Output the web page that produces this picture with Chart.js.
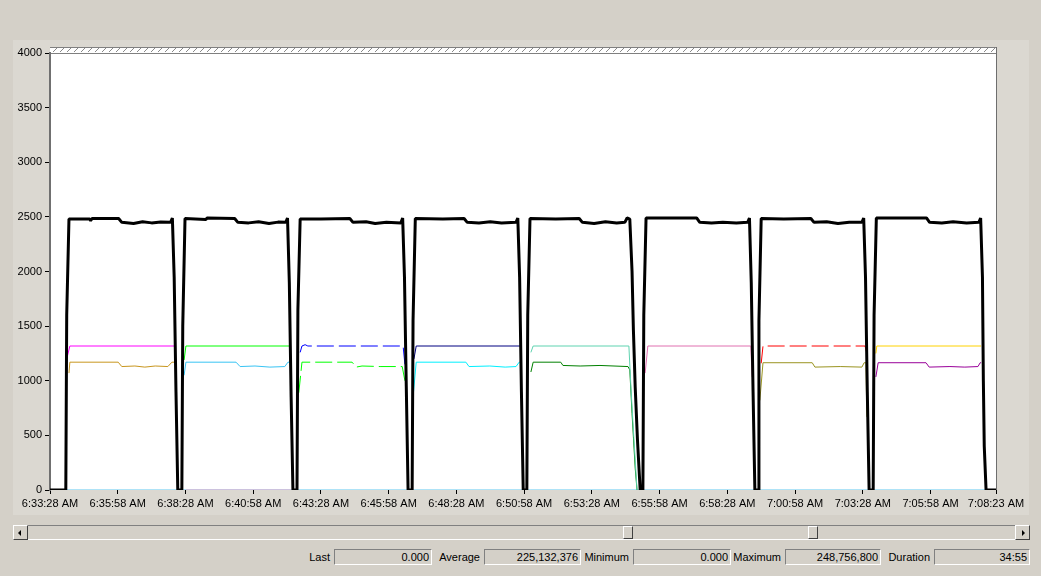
<!DOCTYPE html>
<html>
<head>
<meta charset="utf-8">
<script src="https://cdn.jsdelivr.net/npm/chart.js@4.4.0/dist/chart.umd.min.js"></script>
<style>
  body { margin: 0; width: 1041px; height: 576px; background: #d4d0c8; position: relative; overflow: hidden;
         font: 11px "Liberation Sans", Arial, sans-serif; color: #000; }
  #panel { position: absolute; left: 13px; top: 40px; width: 1016px; height: 475px; background: #dbd8d1; }
  #chart { position: absolute; left: 0; top: 0; }
  .track { position: absolute; left: 13px; top: 525px; width: 1017px; height: 15px; box-sizing: border-box;
           border-top: 1px solid #808080; border-bottom: 1px solid #fff; background: #d4d0c8; }
  .raised { position: absolute; box-sizing: border-box; background: #d4d0c8;
            border-top: 1px solid #fff; border-left: 1px solid #fff;
            border-right: 1px solid #404040; border-bottom: 1px solid #404040; }
  .arrow { position: absolute; top: 4px; width: 0; height: 0; border-top: 3px solid transparent; border-bottom: 3px solid transparent; }
  .lbl { position: absolute; top: 551px; text-align: right; }
  .box { position: absolute; top: 549px; height: 16px; box-sizing: border-box; text-align: right;
         padding-right: 2px; line-height: 14px;
         border-top: 1px solid #808080; border-left: 1px solid #808080;
         border-bottom: 1px solid #fff; border-right: 1px solid #fff; }
</style>
</head>
<body>
<div id="panel"></div>
<canvas id="chart" width="1041" height="520"></canvas>

<div class="track"></div>
<div class="raised" style="left:13px;top:525px;width:15px;height:15px"><div class="arrow" style="left:4px;border-right:3px solid #000"></div></div>
<div class="raised" style="left:1015px;top:525px;width:15px;height:15px"><div class="arrow" style="left:6px;border-left:3px solid #000"></div></div>
<div class="raised" style="left:623px;top:526px;width:10px;height:13px"></div>
<div class="raised" style="left:808px;top:526px;width:10px;height:13px"></div>
<div id="stats"></div>

<script>
// x values are seconds since 6:33:28 AM, y values are counter readings
const tickSeconds = [0, 150, 300, 450, 600, 750, 900, 1050, 1200, 1350, 1500, 1650, 1800, 1950, 2095]
const tickLabels = ['6:33:28 AM', '6:35:58 AM', '6:38:28 AM', '6:40:58 AM', '6:43:28 AM', '6:45:58 AM',
  '6:48:28 AM', '6:50:58 AM', '6:53:28 AM', '6:55:58 AM', '6:58:28 AM', '7:00:58 AM', '7:03:28 AM',
  '7:05:58 AM', '7:08:23 AM']

const totalLine = [
  [0,0],[35,0],[37,1600],[42,2480],[88,2480],[90,2465],[93,2485],[152,2485],[159,2450],[185,2440],[205,2455],[225,2445],[245,2452],[267,2450],[271,2490],[275,1950],[279,900],[283,0],
  [292,0],[294,1500],[299,2485],[345,2475],[348,2490],[409,2485],[416,2450],[440,2445],[462,2455],[485,2440],[505,2452],[522,2450],[526,2490],[530,1900],[534,850],[538,0],
  [547,0],[549,1650],[554,2480],[600,2480],[664,2485],[671,2450],[700,2455],[720,2440],[745,2450],[777,2445],[781,2490],[785,1950],[789,950],[793,0],
  [802,0],[804,1550],[809,2485],[870,2480],[917,2485],[924,2450],[950,2445],[975,2455],[1000,2445],[1032,2450],[1036,2490],[1040,1950],[1044,900],[1048,0],
  [1056,0],[1058,1600],[1063,2485],[1120,2480],[1172,2485],[1179,2450],[1205,2440],[1230,2455],[1255,2445],[1273,2450],[1278,2490],[1284,2480],[1289,2000],[1292,1465],[1296,940],[1301,460],[1307,0],
  [1313,0],[1315,1600],[1320,2490],[1432,2490],[1439,2450],[1465,2445],[1490,2450],[1520,2445],[1545,2450],[1549,2490],[1553,1900],[1557,900],[1561,0],
  [1568,0],[1570,1550],[1575,2485],[1625,2480],[1685,2485],[1692,2450],[1720,2455],[1745,2440],[1770,2450],[1798,2450],[1802,2490],[1806,1950],[1810,900],[1814,0],
  [1823,0],[1825,1600],[1830,2490],[1941,2490],[1948,2450],[1975,2445],[2000,2455],[2030,2445],[2057,2450],[2061,2490],[2065,1950],[2067,1000],[2069,400],[2073,0],[2095,0],
]

const run1Upper = [[38,1215],[44,1318],[275,1318]]
const run1Lower = [[42,1070],[44,1170],[151,1170],[159,1130],[188,1135],[210,1125],[233,1135],[261,1130],[270,1170],[275,1170]]
const run2Upper = [[297,1190],[301,1318],[531,1318]]
const run2Lower = [[297,1050],[301,1170],[412,1170],[421,1130],[454,1135],[487,1125],[520,1130],[527,1170],[531,1170]]
const run3Upper = [[554,1260],[558,1318],[565,1330],[571,1318],[782,1318],[786,1150]]
const run3Lower = [[551,890],[558,1170],[669,1170],[678,1125],[691,1135],[731,1130],[780,1130],[786,1000]]
const run4Upper = [[806,1200],[811,1318],[1041,1318]]
const run4Lower = [[804,850],[811,1170],[921,1170],[928,1130],[974,1135],[1008,1125],[1032,1130],[1039,1170],[1041,1170]]
const run5Upper = [[1065,1260],[1070,1318],[1282,1318],[1287,900],[1293,480],[1300,0]]
const run5Lower = [[1065,1080],[1070,1170],[1131,1170],[1136,1140],[1174,1135],[1218,1140],[1280,1130],[1284,1100],[1289,700],[1296,200],[1300,0]]
const run6Upper = [[1318,1070],[1324,1318],[1552,1318],[1555,1035]]
const run7Upper = [[1575,1160],[1579,1318],[1805,1318],[1809,1250]]
const run7Lower = [[1572,820],[1579,1165],[1688,1165],[1694,1125],[1750,1130],[1798,1125],[1803,1165],[1807,1165],[1809,670]]
const run8Upper = [[1829,1250],[1831,1318],[2062,1318]]
const run8Lower = [[1829,1035],[1834,1165],[1940,1165],[1947,1125],[1993,1130],[2026,1125],[2055,1130],[2060,1165],[2062,1165]]
const idleBlue = [[35,0],[2095,0]]
const idlePink = [[301,0],[534,0]]

const statLabels = ['Last', 'Average', 'Minimum', 'Maximum', 'Duration']
const statValues = ['0.000', '225,132,376', '0.000', '248,756,800', '34:55']

// ── Status bar ────────────────────────────────────────────────────────────────

const statPos = [[280, 334, 98], [420, 484, 97], [570, 633, 98], [720, 785, 96], [870, 934, 96]]
const stats = document.getElementById('stats')
statLabels.forEach((name, i) => {
  const [lx, bx, bw] = statPos[i]
  stats.insertAdjacentHTML('beforeend',
    `<div class="lbl" style="left:${lx}px;width:${bx - lx - 4}px">${name}</div>` +
    `<div class="box" style="left:${bx}px;width:${bw}px">${statValues[i]}</div>`)
})

// ── Chart ─────────────────────────────────────────────────────────────────────

const DASH = [17, 5]
const series = [
  { data: totalLine, color: '#000000', width: 3 },
  { data: run1Upper, color: '#ff00ff' },
  { data: run1Lower, color: '#c8961e' },
  { data: run2Upper, color: '#00ff00' },
  { data: run2Lower, color: '#38c4f4' },
  { data: run3Upper, color: '#0000ff', dash: DASH },
  { data: run3Lower, color: '#00ff00', dash: DASH },
  { data: run4Upper, color: '#000080' },
  { data: run4Lower, color: '#00f0ff' },
  { data: run5Upper, color: '#5fd3b0' },
  { data: run5Lower, color: '#008000' },
  { data: run6Upper, color: '#e070b0' },
  { data: run7Upper, color: '#ff0000', dash: DASH },
  { data: run7Lower, color: '#9a9420' },
  { data: run8Upper, color: '#ffd200' },
  { data: run8Lower, color: '#990099' },
  { data: idlePink, color: '#e8a0c4' },
  { data: idleBlue, color: '#5fc6ee' },
]

const frame = {
  id: 'frame',
  beforeDraw(chart) {
    const { ctx, chartArea: a } = chart
    ctx.save()
    ctx.fillStyle = '#ffffff'
    ctx.fillRect(a.left, a.top - 6, a.right - a.left, a.bottom - a.top + 6)
    // hatched band above the top of the scale
    ctx.strokeStyle = '#8a8a8a'
    ctx.lineWidth = 1
    ctx.beginPath()
    for (let x = a.left + 3; x < a.right - 3; x += 7) {
      ctx.moveTo(x, a.top - 1)
      ctx.lineTo(x + 4, a.top - 5)
    }
    ctx.stroke()
    ctx.strokeStyle = '#808080'
    ctx.beginPath()
    ctx.moveTo(a.left, a.top - 5.5); ctx.lineTo(a.right, a.top - 5.5)
    ctx.moveTo(a.left, a.top + 0.5); ctx.lineTo(a.right, a.top + 0.5)
    ctx.stroke()
    ctx.restore()
  },
  afterDraw(chart) {
    const { ctx, chartArea: a } = chart
    ctx.save()
    ctx.strokeStyle = '#6e6e6e'
    ctx.lineWidth = 1
    ctx.beginPath()
    ctx.moveTo(a.right + 0.5, a.top - 6); ctx.lineTo(a.right + 0.5, a.bottom)
    ctx.stroke()
    ctx.restore()
  },
}

const font = { family: '"Liberation Sans", Arial, sans-serif', size: 11 }

new Chart(document.getElementById('chart'), {
  type: 'line',
  data: {
    datasets: series.map((s, i) => ({
      data: s.data.map(([x, y]) => ({ x, y })),
      borderColor: s.color,
      borderWidth: s.width || 1,
      borderDash: s.dash || [],
      borderJoinStyle: 'bevel',
      pointRadius: 0,
      tension: 0,
      fill: false,
      order: i,
    })),
  },
  options: {
    responsive: false,
    animation: false,
    layout: { padding: { left: 0, top: 53, right: 45, bottom: 0 } },
    plugins: { legend: { display: false }, tooltip: { enabled: false } },
    scales: {
      x: {
        type: 'linear',
        min: 0,
        max: 2095,
        afterBuildTicks: (scale) => { scale.ticks = tickSeconds.map(v => ({ value: v })) },
        afterFit: (scale) => { scale.height = 30 },
        grid: { drawOnChartArea: false, drawTicks: true, tickLength: 4, color: '#000' },
        border: { display: false },
        ticks: {
          autoSkip: false, maxRotation: 0, color: '#000', font, padding: 3,
          callback: (v, i) => tickLabels[i],
        },
      },
      y: {
        min: 0,
        max: 4000,
        afterFit: (scale) => { scale.width = 50 },
        grid: { drawOnChartArea: false, drawTicks: true, tickLength: 5, color: '#000' },
        border: { display: true, color: '#707070', width: 2 },
        ticks: { stepSize: 500, color: '#000', font, padding: 3, callback: v => String(v) },
      },
    },
  },
  plugins: [frame],
})
</script>
</body>
</html>
